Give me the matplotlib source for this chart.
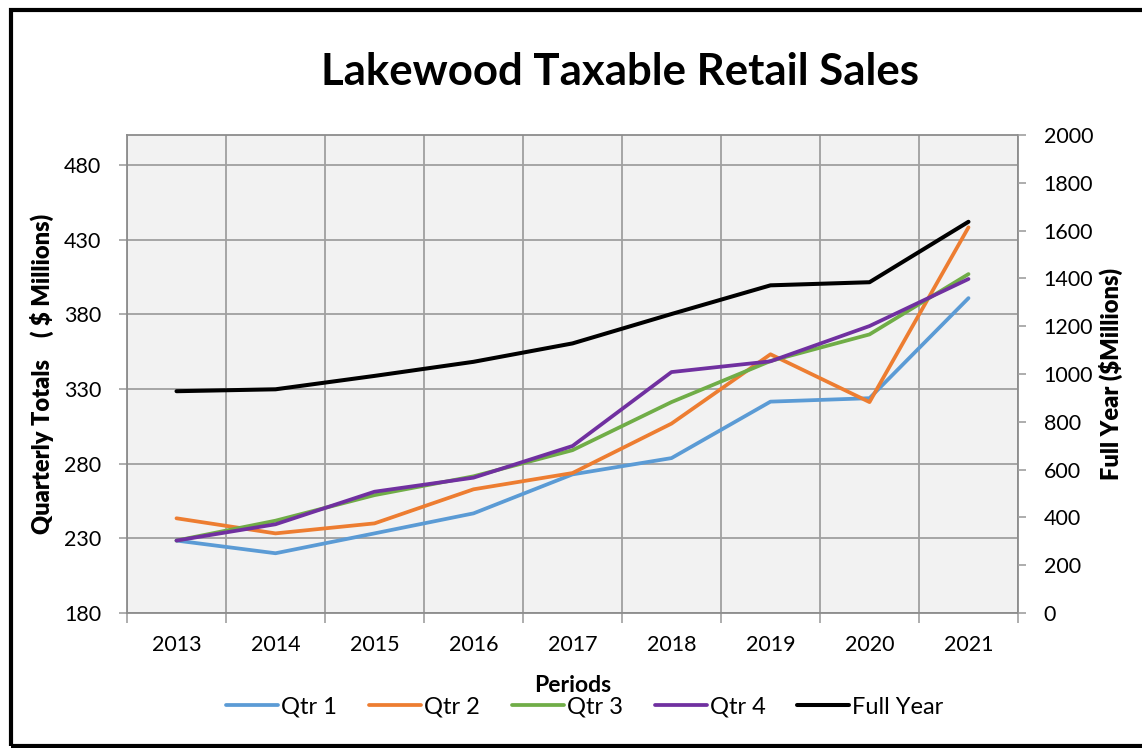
import matplotlib
matplotlib.use('Agg')
import matplotlib.pyplot as plt
from matplotlib.patches import Rectangle
import numpy as np

plt.rcParams['font.family'] = ['Lato', 'DejaVu Sans']

years = ['2013', '2014', '2015', '2016', '2017', '2018', '2019', '2020', '2021']
qtr1 = [228.5, 220.0, 233.3, 246.7, 272.8, 283.7, 321.5, 323.8, 390.8]
qtr2 = [243.4, 233.3, 240.0, 262.8, 273.7, 306.8, 353.2, 321.2, 438.2]
qtr3 = [228.5, 241.8, 258.9, 271.5, 289.0, 321.2, 348.7, 366.5, 406.9]
qtr4 = [228.5, 239.4, 261.2, 270.6, 291.8, 341.3, 348.5, 372.1, 403.6]
full_year = [928, 936, 992, 1051, 1128, 1251, 1371, 1384, 1637]

left_ticks = [180, 230, 280, 330, 380, 430, 480]
right_ticks = list(range(0, 2001, 200))

W, H = 1142, 748
fig = plt.figure(figsize=(W / 100, H / 100), dpi=100)
fig.patch.set_facecolor('white')

# plot area in pixels: x 127..1018, y 135..613
ax = fig.add_axes([127 / W, 1 - 613 / H, (1018 - 127) / W, (613 - 135) / H])
ax.set_facecolor('#f2f2f2')
x = np.arange(len(years))

grid_c = '#a0a0a0'
ax.set_xlim(-0.5, len(years) - 0.5)
ax.set_ylim(180, 500)
ax.set_yticks(left_ticks)
ax.set_xticks(x)
ax.set_xticklabels(years)
ax.set_xticks(np.arange(-0.5, len(years)), minor=True)
ax.tick_params(axis='x', which='major', length=0, labelsize=15.5, pad=16)
ax.tick_params(axis='x', which='minor', length=7, color=grid_c, width=1.2)
ax.tick_params(axis='y', length=6, color=grid_c, width=1.2, labelsize=15.5, pad=12.5)
ax.grid(True, axis='y', which='major', color=grid_c, lw=1.3)
ax.grid(True, axis='x', which='minor', color=grid_c, lw=1.3)
ax.set_axisbelow(True)
for s in ax.spines.values():
    s.set_color('#8c8c8c')
    s.set_linewidth(1.3)

c1, c2, c3, c4 = '#5b9bd5', '#ed7d31', '#70ad47', '#7030a0'
l1, = ax.plot(x, qtr1, color=c1, lw=2.7, label='Qtr 1', solid_capstyle='round')
l2, = ax.plot(x, qtr2, color=c2, lw=2.7, label='Qtr 2', solid_capstyle='round')
l3, = ax.plot(x, qtr3, color=c3, lw=2.7, label='Qtr 3', solid_capstyle='round')
l4, = ax.plot(x, qtr4, color=c4, lw=2.7, label='Qtr 4', solid_capstyle='round')

ax2 = ax.twinx()
ax2.set_ylim(0, 2000)
ax2.set_yticks(right_ticks)
ax2.tick_params(axis='y', length=6, color=grid_c, width=1.2, labelsize=15.5, pad=12.5)
for s in ax2.spines.values():
    s.set_visible(False)
l5, = ax2.plot(x, full_year, color='black', lw=2.9, label='Full Year', solid_capstyle='round')

ax.set_ylabel('Quarterly Totals    ( $ Millions)', fontsize=17, fontweight='heavy', labelpad=7)
ax2.set_ylabel('Full Year ($Millions)', fontsize=17, fontweight='heavy', labelpad=4)

fig.text(620 / W, 1 - 72 / H, 'Lakewood Taxable Retail Sales', ha='center', va='center',
         fontsize=31.5, fontweight='bold')
fig.text(573 / W, 1 - 685 / H, 'Periods', ha='center', va='center', fontsize=16.5, fontweight='bold')

fig.legend(handles=[l1, l2, l3, l4, l5], loc='center', bbox_to_anchor=(585 / W, 1 - 707 / H),
           ncol=5, frameon=False, fontsize=17, handlelength=2.2, handletextpad=0.13,
           columnspacing=1.35)

# outer chart frame
fig.patches.append(Rectangle((11 / W, 1 - 746 / H), 1.05, (746 - 10) / H,
                             transform=fig.transFigure, fill=False, ec='black', lw=3))

fig.savefig('out.png', dpi=100)
